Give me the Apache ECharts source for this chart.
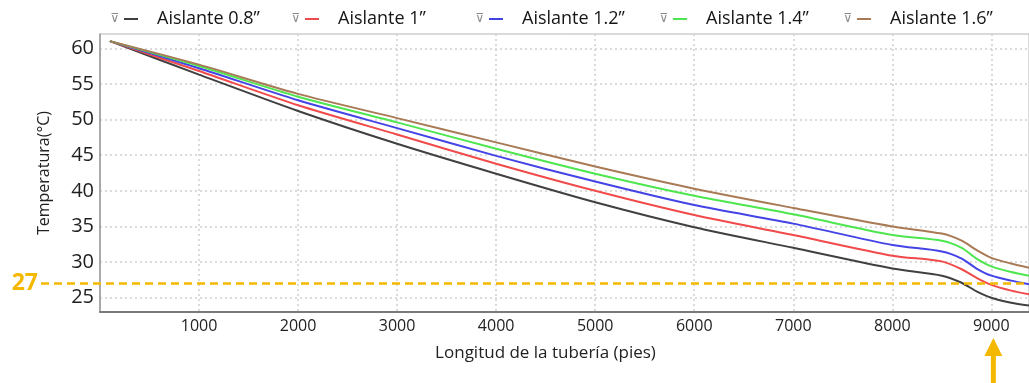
<!DOCTYPE html>
<html>
<head>
<meta charset="utf-8">
<script src="https://cdn.jsdelivr.net/npm/echarts@6/dist/echarts.min.js"></script>
<style>
  html, body { margin: 0; padding: 0; background: #ffffff; }
  #chart { width: 1029px; height: 383px; }
</style>
</head>
<body>
<div id="chart"></div>
<script>
// Pipe length (ft) at which temperatures were sampled
const lengthFt = [100, 1000, 2000, 3000, 4000, 5000, 6000, 7000, 8000, 8500, 8700, 8850, 9000, 9200, 9380];

// Fluid temperature (°C) along the pipe for each insulation thickness
const ins08 = [61.0, 56.3, 51.2, 46.6, 42.4, 38.4, 34.9, 32.0, 29.1, 28.1, 27.1, 25.9, 25.0, 24.3, 23.9];
const ins10 = [61.0, 56.8, 52.0, 47.9, 43.8, 40.0, 36.6, 33.8, 30.9, 30.1, 29.0, 27.8, 26.8, 26.0, 25.5];
const ins12 = [61.0, 57.2, 52.7, 48.8, 44.9, 41.3, 38.0, 35.4, 32.4, 31.5, 30.5, 29.1, 28.1, 27.4, 26.9];
const ins14 = [61.0, 57.5, 53.2, 49.6, 45.9, 42.4, 39.3, 36.7, 33.8, 33.0, 32.0, 30.5, 29.4, 28.6, 28.1];
const ins16 = [61.0, 57.7, 53.6, 50.2, 46.8, 43.4, 40.3, 37.6, 35.0, 34.0, 33.0, 31.7, 30.6, 29.8, 29.2];

const seriesNames = ['Aislante 0.8\u201D', 'Aislante 1\u201D', 'Aislante 1.2\u201D', 'Aislante 1.4\u201D', 'Aislante 1.6\u201D'];
const seriesValues = [ins08, ins10, ins12, ins14, ins16];
const seriesColors = ['#404040', '#f04a4a', '#4444e6', '#4ee64e', '#a87a55'];

// Axis ticks
const yTicks = [25, 30, 35, 40, 45, 50, 55, 60];
const xTicks = [1000, 2000, 3000, 4000, 5000, 6000, 7000, 8000, 9000];

// Reference temperature and the length it is highlighted at
const limitTemp = 27;
const markLength = 9000;

const FONT = '"Open Sans", "Noto Sans", sans-serif';
const ACCENT = '#f5b800';

// Legend entries laid out in one row
const legendLeft = [124, 305, 489, 673, 857];
const legends = seriesNames.map((name, i) => ({
  data: [name],
  left: legendLeft[i],
  top: 8,
  padding: 0,
  icon: 'rect',
  itemWidth: 14,
  itemHeight: 2,
  textStyle: {
    fontFamily: FONT, fontSize: 18, color: '#151515',
    padding: [0, 0, 0, 14], lineHeight: 22
  }
}));

const series = seriesNames.map((name, i) => ({
  name: name,
  type: 'line',
  data: lengthFt.map((x, k) => [x, seriesValues[i][k]]),
  symbol: 'none',
  smooth: 0.25,
  lineStyle: { color: seriesColors[i], width: 2 },
  itemStyle: { color: seriesColors[i] },
  z: 3
}));

const chart = echarts.init(document.getElementById('chart'), null, { renderer: 'canvas' });

chart.setOption({
  animation: false,
  backgroundColor: '#ffffff',
  legend: legends,
  grid: {
    left: 100, right: 0, top: 34, bottom: 71,
    show: true, borderColor: '#b4b4b4', borderWidth: 1
  },
  xAxis: {
    type: 'value',
    min: 0, max: 9380,
    name: 'Longitud de la tubería (pies)',
    nameLocation: 'middle',
    nameGap: 33,
    nameTextStyle: { fontFamily: FONT, fontSize: 17, color: '#222222', padding: [0, 38, 0, 0] },
    axisLine: { show: true, lineStyle: { color: '#7a7a7a', width: 2 } },
    axisTick: { show: false, customValues: xTicks },
    axisLabel: {
      customValues: xTicks, fontFamily: FONT, fontSize: 16, color: '#222222', margin: 6,
      formatter: v => String(v)
    },
    splitLine: { show: true, lineStyle: { color: '#cfcfcf', width: 1.5, type: [2, 3] } }
  },
  yAxis: {
    type: 'value',
    min: 23, max: 62,
    name: 'Temperatura(°C)',
    nameLocation: 'middle',
    nameGap: 48,
    nameTextStyle: { fontFamily: FONT, fontSize: 16, color: '#222222' },
    axisLine: { show: true, lineStyle: { color: '#9a9a9a', width: 1.5 } },
    axisTick: { show: false, customValues: yTicks },
    axisLabel: { customValues: yTicks, fontFamily: FONT, fontSize: 20, color: '#1e1e1e', margin: 6 },
    splitLine: { show: true, lineStyle: { color: '#cfcfcf', width: 1.5, type: [2, 3] } }
  },
  series: series
});

// Highlight the reference temperature and the length of interest
const yLimit = chart.convertToPixel({ yAxisIndex: 0 }, limitTemp);
const xMark = chart.convertToPixel({ xAxisIndex: 0 }, markLength) + 2;
const W = chart.getWidth();
const H = chart.getHeight();

chart.setOption({
  graphic: [
    {
      type: 'line', z: 10,
      shape: { x1: 41, y1: yLimit, x2: W, y2: yLimit },
      style: { stroke: ACCENT, lineWidth: 2.5, lineDash: [8, 5] }
    },
    {
      type: 'text', z: 10,
      x: 38, y: yLimit,
      style: {
        text: String(limitTemp), fill: ACCENT,
        font: 'bold 23px ' + FONT, align: 'right', verticalAlign: 'middle'
      }
    },
    {
      type: 'polygon', z: 10,
      shape: { points: [[xMark, 338], [xMark - 9, 356], [xMark + 9, 356]] },
      style: { fill: ACCENT }
    },
    {
      type: 'rect', z: 10,
      shape: { x: xMark - 2.5, y: 354, width: 5, height: H - 354 },
      style: { fill: ACCENT }
    }
  ].concat(legendLeft.map(lx => ({
    type: 'text', z: 10,
    x: lx - 9, y: 19,
    style: {
      text: '\u22BD', fill: '#8a8a8a',
      font: '12px "DejaVu Sans"', align: 'center', verticalAlign: 'middle'
    }
  })))
});
</script>
</body>
</html>
